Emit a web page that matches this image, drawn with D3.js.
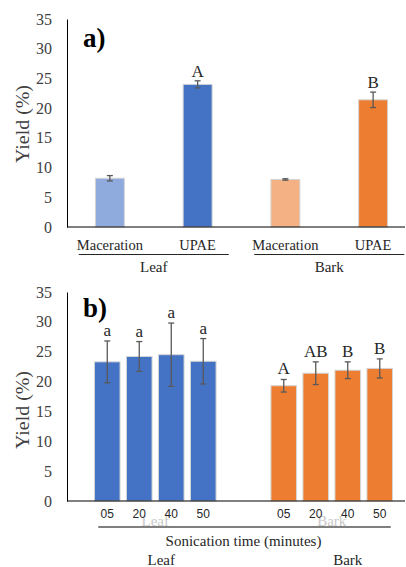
<!DOCTYPE html>
<html>
<head>
<meta charset="utf-8">
<script src="https://cdn.jsdelivr.net/npm/d3@7"></script>
<style>
  html, body { margin: 0; padding: 0; background: #fff; }
  svg { display: block; }
  .serif { font-family: "Liberation Serif", "DejaVu Serif", "Times New Roman", Times, serif; }
  .sans { font-family: "Liberation Sans", Arial, sans-serif; }
</style>
</head>
<body>
<svg id="chart" width="406" height="567"></svg>
<script>
// ---------- DATA ----------
const groups = ["Leaf", "Bark"];
// Panel a
const methodsA = ["Maceration", "UPAE"];
const leafA = [8.2, 24.0];
const leafAErr = [0.45, 0.6];
const barkA = [8.0, 21.4];
const barkAErr = [0.12, 1.3];
const leafALetters = ["", "A"];
const barkALetters = ["", "B"];
// Panel b
const timesB = ["05", "20", "40", "50"];
const leafB = [23.3, 24.2, 24.5, 23.4];
const leafBErr = [3.5, 2.5, 5.3, 3.8];
const barkB = [19.3, 21.4, 21.9, 22.2];
const barkBErr = [1.05, 1.9, 1.4, 1.6];
const leafBLetters = ["a", "a", "a", "a"];
const barkBLetters = ["A", "AB", "B", "B"];
const yTicks = [0, 5, 10, 15, 20, 25, 30, 35];
const xTitleB = "Sonication time (minutes)";
const yTitle = "Yield (%)";

// ---------- STYLE ----------
const colorsA = { Leaf: ["#8FAADC", "#4472C4"], Bark: ["#F4B183", "#ED7D31"] };
const colorB = { Leaf: "#4472C4", Bark: "#ED7D31" };
const textCol = "#404040";
const errCol = "#595959";

const svg = d3.select("#chart");

function yAxis(g, y, labelY, tag, tagY) {
  const ax = d3.axisLeft(y).tickValues(yTicks).tickSize(0).tickPadding(15);
  const a = g.append("g").attr("transform", "translate(67,0)").call(ax);
  a.attr("font-family", null);
  a.select(".domain").attr("stroke", "#000").attr("stroke-width", 1);
  a.selectAll("text").attr("class", "serif").attr("font-size", 16).attr("fill", textCol);
  g.append("text")
    .attr("class", "serif")
    .attr("transform", `translate(29,${labelY}) rotate(-90)`)
    .attr("text-anchor", "middle")
    .attr("font-size", 19).attr("fill", textCol)
    .attr("textLength", 78).attr("lengthAdjust", "spacingAndGlyphs")
    .text(yTitle);
  g.append("text").attr("class", "serif").attr("x", 83).attr("y", tagY)
    .attr("font-size", 27).attr("font-weight", "bold").attr("fill", "#000")
    .text(tag);
}

function errorBar(g, x, y, v, e) {
  const cw = 3;
  g.append("line").attr("x1", x).attr("x2", x).attr("y1", y(v + e)).attr("y2", y(v - e))
    .attr("stroke", errCol).attr("stroke-width", 1.3);
  [v + e, v - e].forEach(t => g.append("line").attr("x1", x - cw).attr("x2", x + cw)
    .attr("y1", y(t)).attr("y2", y(t)).attr("stroke", errCol).attr("stroke-width", 1.3));
}

function txt(g, cls, x, yy, size, fill, s) {
  return g.append("text").attr("class", cls).attr("x", x).attr("y", yy)
    .attr("text-anchor", "middle").attr("font-size", size).attr("fill", fill).text(s);
}

// ---------- PANEL A ----------
{
  const g = svg.append("g");
  const y = d3.scaleLinear().domain([0, 35]).range([227, 19]);
  const xo = d3.scaleBand().domain(groups).range([66, 417]);
  const xi = d3.scaleBand().domain(methodsA).range([0, xo.bandwidth()]).paddingInner(0.67).paddingOuter(0.335);
  const vals = { Leaf: leafA, Bark: barkA };
  const errs = { Leaf: leafAErr, Bark: barkAErr };
  const lets = { Leaf: leafALetters, Bark: barkALetters };

  groups.forEach(grp => {
    methodsA.forEach((m, i) => {
      const x0 = xo(grp) + xi(m);
      const v = vals[grp][i], e = errs[grp][i];
      g.append("rect").attr("x", x0).attr("width", xi.bandwidth())
        .attr("y", y(v)).attr("height", y(0) - y(v))
        .attr("fill", colorsA[grp][i]).attr("stroke", "#d4d4d4").attr("stroke-width", 1);
      const cx = x0 + xi.bandwidth() / 2;
      errorBar(g, cx, y, v, e);
      if (lets[grp][i]) txt(g, "serif", cx, y(v + e) - 4, 17, "#262626", lets[grp][i]);
      txt(g, "serif", cx, 250, 14.5, "#262626", m);
    });
    const gc = xo(grp) + xo.bandwidth() / 2;
    g.append("line").attr("x1", gc - 75).attr("x2", gc + 75).attr("y1", 254.5).attr("y2", 254.5)
      .attr("stroke", "#262626").attr("stroke-width", 1);
    txt(g, "serif", gc, 272, 15, "#262626", grp);
  });
  g.append("line").attr("x1", 67).attr("x2", 405).attr("y1", y(0)).attr("y2", y(0))
    .attr("stroke", "#000").attr("stroke-width", 1.2);
  yAxis(g, y, 124, "a)", 47);
}

// ---------- PANEL B ----------
{
  const g = svg.append("g");
  const y = d3.scaleLinear().domain([0, 35]).range([501, 292]);
  const xo = d3.scaleBand().domain(groups).range([67, 420]);
  const xi = d3.scaleBand().domain(timesB).range([24.25, 152.25]).paddingInner(0.2).paddingOuter(0.1);
  const vals = { Leaf: leafB, Bark: barkB };
  const errs = { Leaf: leafBErr, Bark: barkBErr };
  const lets = { Leaf: leafBLetters, Bark: barkBLetters };

  groups.forEach(grp => {
    const gc = xo(grp) + xo.bandwidth() / 2;
    // faint group label behind the tick labels
    txt(g, "serif", gc, 526, 15, "#c8c8c8", grp);
    timesB.forEach((t, i) => {
      const x0 = xo(grp) + xi(t);
      const v = vals[grp][i], e = errs[grp][i];
      g.append("rect").attr("x", x0).attr("width", xi.bandwidth())
        .attr("y", y(v)).attr("height", y(0) - y(v))
        .attr("fill", colorB[grp]).attr("stroke", "#d4d4d4").attr("stroke-width", 1);
      const cx = x0 + xi.bandwidth() / 2;
      errorBar(g, cx, y, v, e);
      txt(g, "serif", cx, y(v + e) - 5, 17, "#262626", lets[grp][i]);
      txt(g, "sans", cx, 518, 12, "#262626", t);
    });
    txt(g, "serif", gc + (grp === "Leaf" ? 6 : 16), 565, 15, "#262626", grp);
  });
  const left = xo("Leaf") + xi.range()[0] + 7;
  const right = xo("Bark") + xi.range()[1] - 5;
  g.append("line").attr("x1", left).attr("x2", right).attr("y1", 527).attr("y2", 527)
    .attr("stroke", "#7f7f7f").attr("stroke-width", 2);
  txt(g, "serif", (left + right) / 2 - 1, 546, 15, "#262626", xTitleB);
  g.append("line").attr("x1", 67).attr("x2", 405).attr("y1", y(0)).attr("y2", y(0))
    .attr("stroke", "#000").attr("stroke-width", 1.2);
  yAxis(g, y, 410, "b)", 317);
}
</script>
</body>
</html>
